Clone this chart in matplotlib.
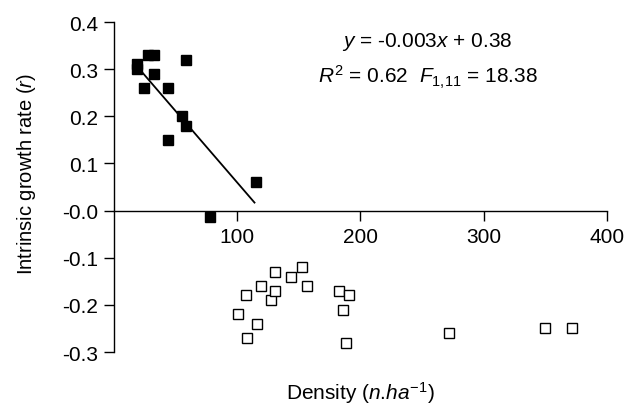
import matplotlib
matplotlib.use('Agg')
import matplotlib.pyplot as plt
import numpy as np

plt.rcParams['font.family'] = ['Liberation Sans', 'DejaVu Sans']
plt.rcParams['mathtext.fontset'] = 'custom'
plt.rcParams['mathtext.rm'] = 'Liberation Sans'
plt.rcParams['mathtext.it'] = 'Liberation Sans:italic'

# low density group (filled)
dens_low = [18.7, 18.7, 24.3, 27.6, 32.4, 32.4, 43.8, 43.8, 55.0, 58.4, 58.4, 115.0, 78.0]
r_low = [0.31, 0.30, 0.26, 0.33, 0.33, 0.29, 0.26, 0.15, 0.20, 0.18, 0.32, 0.06, -0.013]

# high density group (open)
dens_high = [107, 100.6, 108, 116, 119, 127, 130.6, 130.6, 143.5, 152.5, 157,
             182.5, 190.6, 185.7, 188, 271.7, 349.6, 372]
r_high = [-0.18, -0.22, -0.27, -0.24, -0.16, -0.19, -0.17, -0.13, -0.14, -0.12, -0.16,
          -0.17, -0.18, -0.21, -0.28, -0.26, -0.25, -0.25]

# regression line as drawn
fit_x = [18.7, 114.0]
fit_y = [0.306, 0.017]

yticks = [0.4, 0.3, 0.2, 0.1, 0.0, -0.1, -0.2, -0.3]
ytick_labels = ['0.4', '0.3', '0.2', '0.1', '-0.0', '-0.1', '-0.2', '-0.3']
xticks = [100, 200, 300, 400]

fs = 15

fig = plt.figure(figsize=(6.27, 4.06), dpi=100)
ax = fig.add_axes([0.1818, 0.1305, 0.7863, 0.8128])

ax.plot(fit_x, fit_y, color='black', lw=1.3, zorder=2)
ax.plot(dens_low, r_low, ls='none', marker='s', ms=7.2, mfc='black', mec='black',
        clip_on=False, zorder=3)
ax.plot(dens_high, r_high, ls='none', marker='s', ms=7.2, mfc='white', mec='black',
        mew=1.0, clip_on=False, zorder=3)

ax.set_xlim(0, 400)
ax.set_ylim(-0.3, 0.4)

ax.spines['top'].set_visible(False)
ax.spines['right'].set_visible(False)
ax.spines['bottom'].set_position(('data', 0))
for s in ('left', 'bottom'):
    ax.spines[s].set_linewidth(1.0)

ax.set_yticks(yticks)
ax.set_yticklabels(ytick_labels)
ax.set_xticks(xticks)
ax.tick_params(axis='both', direction='out', length=7, width=1.0, labelsize=fs)
ax.tick_params(axis='y', pad=4.5)
ax.tick_params(axis='x', pad=5)

fig.text(360 / 627, 6 / 406, r'Density ($n$.$ha^{\mathit{-1}}$)', ha='center', va='baseline',
         fontsize=fs)
fig.text(32 / 627, 1 - 174.5 / 406, r'Intrinsic growth rate ($r$)', ha='center', va='baseline',
         rotation=90, rotation_mode='anchor', fontsize=14.5)

ax.text(0.635, 0.927, r'$y$ = -0.003$x$ + 0.38', transform=ax.transAxes,
        ha='center', va='baseline', fontsize=fs)
ax.text(0.637, 0.818, r'$R^{\mathrm{2}}$ = 0.62  $F_{\mathit{1{,}11}}$ = 18.38', transform=ax.transAxes,
        ha='center', va='baseline', fontsize=fs)

fig.savefig('out.png', dpi=100)
